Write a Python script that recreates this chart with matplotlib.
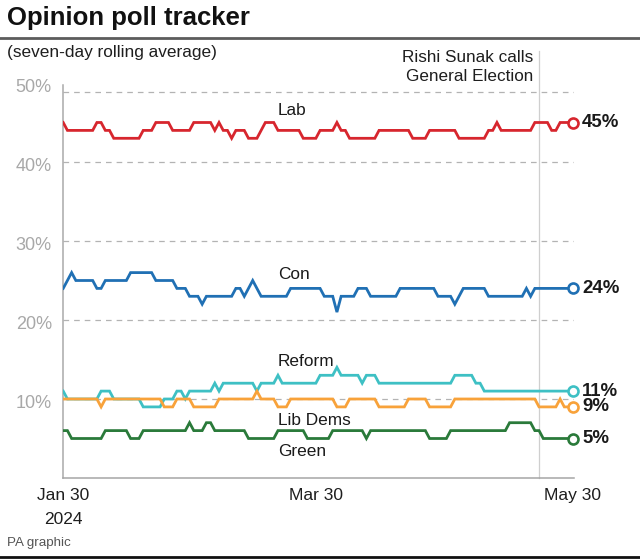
import matplotlib
matplotlib.use('Agg')
import matplotlib.pyplot as plt
import matplotlib.transforms as mtransforms
from matplotlib.lines import Line2D
import pandas as pd

plt.rcParams['font.family'] = ['Liberation Sans', 'DejaVu Sans']

# ---------------- data ----------------
dates = pd.date_range('2024-01-30', '2024-05-30', freq='D')

lab = [45, 44, 44, 44, 44, 44, 44, 44, 45, 45,
       44, 44, 43, 43, 43, 43, 43, 43, 43, 44,
       44, 44, 45, 45, 45, 45, 44, 44, 44, 44,
       44, 45, 45, 45, 45, 45, 44, 45, 44, 44,
       43, 44, 44, 44, 43, 43, 43, 44, 45, 45,
       45, 44, 44, 44, 44, 44, 44, 43, 43, 43,
       43, 44, 44, 44, 44, 45, 44, 44, 43, 43,
       43, 43, 43, 43, 43, 44, 44, 44, 44, 44,
       44, 44, 44, 43, 43, 43, 43, 44, 44, 44,
       44, 44, 44, 44, 43, 43, 43, 43, 43, 43,
       43, 44, 44, 45, 44, 44, 44, 44, 44, 44,
       44, 44, 45, 45, 45, 45, 44, 44, 45, 45,
       45, 45]

con = [24, 25, 26, 25, 25, 25, 25, 25, 24, 24,
       25, 25, 25, 25, 25, 25, 26, 26, 26, 26,
       26, 26, 25, 25, 25, 25, 25, 24, 24, 24,
       23, 23, 23, 22, 23, 23, 23, 23, 23, 23,
       23, 24, 24, 23, 24, 25, 24, 23, 23, 23,
       23, 23, 23, 23, 24, 24, 24, 24, 24, 24,
       24, 24, 23, 23, 23, 21, 23, 23, 23, 23,
       24, 24, 24, 23, 23, 23, 23, 23, 23, 23,
       24, 24, 24, 24, 24, 24, 24, 24, 24, 23,
       23, 23, 23, 22, 23, 24, 24, 24, 24, 24,
       24, 23, 23, 23, 23, 23, 23, 23, 23, 23,
       24, 23, 24, 24, 24, 24, 24, 24, 24, 24,
       24, 24]

reform = [11, 10, 10, 10, 10, 10, 10, 10, 10, 11,
          11, 11, 10, 10, 10, 10, 10, 10, 10, 9,
          9, 9, 9, 9, 10, 10, 10, 11, 11, 10,
          11, 11, 11, 11, 11, 11, 12, 11, 12, 12,
          12, 12, 12, 12, 12, 12, 11, 12, 12, 12,
          12, 13, 12, 12, 12, 12, 12, 12, 12, 12,
          12, 13, 13, 13, 13, 14, 13, 13, 13, 13,
          13, 12, 13, 13, 13, 12, 12, 12, 12, 12,
          12, 12, 12, 12, 12, 12, 12, 12, 12, 12,
          12, 12, 12, 13, 13, 13, 13, 13, 12, 12,
          11, 11, 11, 11, 11, 11, 11, 11, 11, 11,
          11, 11, 11, 11, 11, 11, 11, 11, 11, 11,
          11, 11]

libdem = [10, 10, 10, 10, 10, 10, 10, 10, 10, 9,
          10, 10, 10, 10, 10, 10, 10, 10, 10, 10,
          10, 10, 10, 10, 9, 9, 9, 10, 10, 10,
          10, 9, 9, 9, 9, 9, 9, 10, 10, 10,
          10, 10, 10, 10, 10, 10, 11, 10, 10, 10,
          10, 9, 9, 9, 10, 10, 10, 10, 10, 10,
          10, 10, 10, 10, 10, 9, 9, 9, 10, 10,
          10, 10, 10, 10, 10, 9, 9, 9, 9, 9,
          9, 9, 10, 10, 10, 10, 10, 9, 9, 9,
          9, 9, 9, 10, 10, 10, 10, 10, 10, 10,
          10, 10, 10, 10, 10, 10, 10, 10, 10, 10,
          10, 10, 10, 9, 9, 9, 9, 9, 10, 9,
          9, 9]

green = [6, 6, 5, 5, 5, 5, 5, 5, 5, 5,
         6, 6, 6, 6, 6, 6, 5, 5, 5, 6,
         6, 6, 6, 6, 6, 6, 6, 6, 6, 6,
         7, 6, 6, 6, 7, 7, 6, 6, 6, 6,
         6, 6, 6, 6, 5, 5, 5, 5, 5, 5,
         5, 6, 6, 6, 6, 6, 6, 6, 5, 5,
         5, 5, 5, 5, 6, 6, 6, 6, 6, 6,
         6, 6, 5, 6, 6, 6, 6, 6, 6, 6,
         6, 6, 6, 6, 6, 6, 6, 5, 5, 5,
         5, 5, 6, 6, 6, 6, 6, 6, 6, 6,
         6, 6, 6, 6, 6, 6, 7, 7, 7, 7,
         7, 7, 6, 6, 5, 5, 5, 5, 5, 5,
         5, 5]

party_names = ['Lab', 'Con', 'Reform', 'Lib Dems', 'Green']
party_values = [lab, con, reform, libdem, green]

yticks = [10, 20, 30, 40, 50]
ytick_labels = ['10%', '20%', '30%', '40%', '50%']
xtick_dates = ['2024-01-30', '2024-03-30', '2024-05-30']
xtick_labels = ['Jan 30\n2024', 'Mar 30', 'May 30']
event_date = '2024-05-22'
event_text = 'Rishi Sunak calls\nGeneral Election'

# ---------------- style ----------------
colors = ['#d7262e', '#2070b4', '#3ec0c4', '#f8a23a', '#2a7a3a']
name_label_y = [46.5, 25.7, 14.8, 7.3, 3.4]
name_label_x = pd.Timestamp('2024-03-21')
grid_levels = [10, 20, 30, 40, 48.8]

W, H = 640, 559
fig = plt.figure(figsize=(W / 100, H / 100), dpi=100)
ax = fig.add_axes([63 / W, 1 - 478 / H, (574 - 63) / W, (478 - 83) / H])

x0 = dates[0]
ax.set_xlim(x0 - pd.Timedelta(days=0.05), x0 + pd.Timedelta(days=121.3))
ax.set_ylim(0, 50)

for s in ['top', 'right']:
    ax.spines[s].set_visible(False)
ax.spines['left'].set_color('#aaaaaa')
ax.spines['left'].set_linewidth(1.1)
ax.spines['left'].set_bounds(0, 49.7)
ax.spines['bottom'].set_color('#a5a5a5')
ax.spines['bottom'].set_linewidth(1.1)

for g in grid_levels:
    ax.axhline(g, color='#b3b3b3', lw=0.9, ls=(0, (4.5, 4)), zorder=0)

ev = pd.Timestamp(event_date)
ax.plot([ev, ev], [0, 54.0], color='#cfcfcf', lw=0.9, clip_on=False, zorder=1)
ax.text(ev, 52.0, event_text, ha='right', va='center', fontsize=12.3,
        color='#1e1e1e', linespacing=1.35,
        transform=mtransforms.offset_copy(ax.transData, fig=fig, x=-6, y=0, units='dots'))

for name, vals, col, ly in zip(party_names, party_values, colors, name_label_y):
    ax.plot(dates, vals, color=col, lw=2.0, solid_joinstyle='miter', zorder=3)
    ax.plot([dates[-1]], [vals[-1]], 'o', mfc='white', mec=col, ms=7.2, mew=1.9,
            zorder=5, clip_on=False)
    ax.text(dates[-1], vals[-1], f'{vals[-1]}%', ha='left', va='center',
            fontsize=13.4, fontweight='bold', color='#1a1a1a',
            transform=mtransforms.offset_copy(ax.transData, fig=fig, x=9.5, y=0, units='dots'))
    ax.text(name_label_x, ly, name, ha='left', va='center', fontsize=12.4, color='#1a1a1a')

ax.set_yticks(yticks)
ax.set_yticklabels(ytick_labels)
ax.tick_params(axis='y', length=0, pad=8, labelsize=13, labelcolor='#a8a8a8')
off = mtransforms.ScaledTranslation(0, -2.5 / 100, fig.dpi_scale_trans)
for lbl in ax.get_yticklabels():
    lbl.set_transform(lbl.get_transform() + off)

ax.set_xticks([pd.Timestamp(d) for d in xtick_dates])
ax.set_xticklabels(xtick_labels, linespacing=1.75)
ax.tick_params(axis='x', length=0, pad=7.5, labelsize=12.5, labelcolor='#1e1e1e')

# ---------------- titles / frame ----------------
fig.text(7 / W, 1 - 18.5 / H, 'Opinion poll tracker', fontsize=18.5, fontweight='bold',
         ha='left', va='center', color='#111111')
fig.add_artist(Line2D([0, 1], [1 - 37.5 / H, 1 - 37.5 / H], color='#5c5c5c', lw=2.0))
fig.text(7 / W, 1 - 53 / H, '(seven-day rolling average)', fontsize=12.4,
         ha='left', va='center', color='#1e1e1e')
fig.text(7 / W, 1 - 543 / H, 'PA graphic', fontsize=9.6, ha='left', va='center',
         color='#555555')
fig.add_artist(Line2D([0, 1], [1 - 557 / H, 1 - 557 / H], color='#111111', lw=2.0))

fig.savefig('out.png', dpi=100)
